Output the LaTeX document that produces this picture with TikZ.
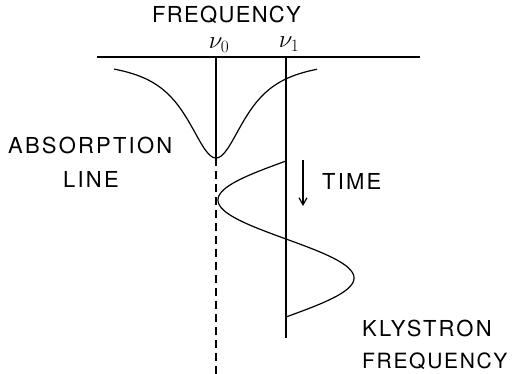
\documentclass[tikz,border=0pt]{standalone}
\usepackage{fontspec}
\setmainfont{TeX Gyre Heros}
\newfontfamily\lblfont[LetterSpace=10]{TeX Gyre Heros}
\newfontfamily\btmlblfont[LetterSpace=8]{TeX Gyre Heros}
\newfontfamily\toplblfont[LetterSpace=6]{TeX Gyre Heros}
\usetikzlibrary{arrows.meta}
\tikzset{
  lbl/.style={inner sep=0pt, anchor=base west, font=\fontsize{22}{25}\lblfont},
  btmlbl/.style={inner sep=0pt, anchor=base west, font=\fontsize{21}{24}\btmlblfont},
  toplbl/.style={inner sep=0pt, anchor=base west, font=\fontsize{22}{25}\toplblfont},
  nulbl/.style={inner sep=0pt, font=\fontsize{26}{30}\selectfont},
  heavy/.style={line width=2pt},
  thin/.style={line width=1.2pt},
  dashedline/.style={line width=1.7pt, dash pattern=on 8pt off 5pt},
}
\begin{document}
\begin{tikzpicture}[x=1pt,y=-1pt]
\useasboundingbox (0,0) rectangle (517,374);
% coordinates
\coordinate (axL) at (97,57);
\coordinate (axR) at (420,57);
\coordinate (n0top) at (216,57);
\coordinate (n0min) at (216,158);
\coordinate (n0bot) at (216,374);
\coordinate (n1top) at (286,57);
\coordinate (n1bot) at (286,338);
\coordinate (tA) at (303,160);
\coordinate (tB) at (303,206);
% axis and lines
\draw[heavy] (axL) -- (axR);
\draw[heavy] (n0top) -- (n0min);
\draw[dashedline] (n0min) -- (n0bot);
\draw[heavy] (n1top) -- (n1bot);
% absorption line (Lorentzian)
\draw[thin, domain=-102:101, samples=120, smooth, variable=\t]
  plot ({216+\t},{58+100/(1+(\t/36)^2)});
% klystron frequency sweep
\draw[thin, domain=0:156, samples=120, smooth, variable=\t]
  plot ({286-68*sin(\t*2.30769)},{161+\t});
% time arrow
\draw[line width=1.2pt, -{Straight Barb[length=7pt,width=8pt]}] (tA) -- (tB);
% labels
\node[toplbl] (freqtop) at (152,23) {FREQUENCY};
\node[nulbl] (nu0) at (219,45) {$\nu_0$};
\node[nulbl] (nu1) at (289,44) {$\nu_1$};
\node[lbl] (abs) at (8,154) {ABSORPTION};
\node[lbl] (line) at (63,188) {LINE};
\node[lbl] (time) at (322,190) {TIME};
\node[lbl] (kly) at (362,336) {KLYSTRON};
\node[btmlbl] (kfreq) at (362,368) {FREQUENCY};
\end{tikzpicture}
\end{document}
